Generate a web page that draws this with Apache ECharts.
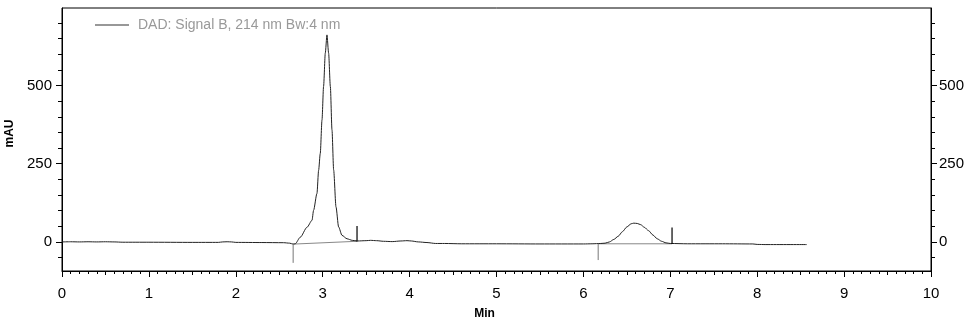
<!DOCTYPE html>
<html>
<head>
<meta charset="utf-8">
<script src="https://cdn.jsdelivr.net/npm/echarts@6/dist/echarts.min.js"></script>
<style>
html,body{margin:0;padding:0;background:#fff;}
#c{width:969px;height:324px;}
</style>
</head>
<body>
<div id="c"></div>
<script>
// ---- data ----
var seriesName = 'DAD: Signal B, 214 nm Bw:4 nm';
var times = [0, 0.1, 0.2, 0.3, 0.4, 0.5, 0.6, 0.7, 1.0, 1.5, 1.8, 1.85, 1.9, 1.95, 2.0, 2.3, 2.55, 2.62, 2.66, 2.684,
  2.742, 2.82, 2.877, 2.895, 2.934, 2.953, 2.972, 2.992, 3.010, 3.030, 3.049, 3.068, 3.088, 3.107, 3.126, 3.153, 3.183, 3.222,
  3.28, 3.34, 3.40, 3.5, 3.55, 3.62, 3.7, 3.8, 3.9, 3.97, 4.02, 4.1, 4.2, 4.3, 4.4, 4.6, 5.0, 5.5, 6.0, 6.1, 6.2, 6.25,
  6.3, 6.35, 6.4, 6.45, 6.5, 6.55, 6.58, 6.62, 6.66, 6.7, 6.75, 6.8, 6.85, 6.9, 6.95, 7.0, 7.2, 7.6, 7.95, 8.0, 8.1, 8.57];
var signal = [0, 0.5, 0, 0.5, 0, 0.5, 0, -1, -1, -1.5, -1.5, 0, 0.5, 0, -1.5, -2, -2.5, -4, -7, -6,
  15, 47, 69, 101, 155, 229, 283, 390, 497, 604, 662, 604, 497, 358, 230, 112, 48, 21,
  10, 5, 3, 4, 5, 4, 2, 1, 3, 4, 3, 0, -2, -5, -5, -6, -6, -6.5, -6.5, -6, -5, -4,
  0, 8, 18, 33, 48, 58, 60, 59, 55, 47, 36, 22, 10, 2, -3, -5, -6, -6, -6.5, -8, -8.5, -8.5];
// integration marks: [time, from, to]
var startMarks = [[2.66, -7, -67], [6.17, -6, -58]];
var endMarks = [[3.395, 51, 1], [7.02, 46, -6]];
// integration baselines: [t1, y1, t2, y2]
var baselines = [[2.66, -7, 3.395, 2], [6.17, -6, 7.02, -6]];
var xTicks = [0, 1, 2, 3, 4, 5, 6, 7, 8, 9, 10];
var yLabels = [0, 250, 500];
var yMinor = [-50, 0, 50, 100, 150, 200, 250, 300, 350, 400, 450, 500, 550, 600, 650, 700];
var xHalf = [0.5, 1.5, 2.5, 3.5, 4.5, 5.5, 6.5, 7.5, 8.5, 9.5];
var yMin = -93, yMax = 748;

// ---- build ----
var sigData = times.map(function (t, i) { return [t, signal[i]]; });
function segs(list) {
  var out = [];
  list.forEach(function (m) { out.push([m[0], m[1]]); out.push([m[0], m[2]]); out.push([null, null]); });
  return out;
}
var baseData = [];
baselines.forEach(function (b) { baseData.push([b[0], b[1]]); baseData.push([b[2], b[3]]); baseData.push([null, null]); });

var FONT = 'Liberation Sans';
var chart = echarts.init(document.getElementById('c'), null, {renderer: 'canvas'});
var yCommon = {type: 'value', min: yMin, max: yMax, splitLine: {show: false}};
chart.setOption({
  animation: false,
  backgroundColor: '#fff',
  grid: {left: 62, right: 38, top: 8, bottom: 53, show: true, borderColor: '#000', borderWidth: 1,
         containLabel: false, outerBoundsMode: 'none'},
  legend: {
    left: 90, top: 13, itemWidth: 34, itemHeight: 1, itemGap: 10,
    data: [{name: seriesName, icon: 'rect', itemStyle: {color: '#333'}}],
    textStyle: {color: '#999', fontSize: 14, fontFamily: FONT, padding: [0, 0, 0, 4]}
  },
  xAxis: [{
    type: 'value', min: 0, max: 10, interval: 1,
    name: 'Min', nameLocation: 'middle', nameGap: 37,
    nameTextStyle: {fontFamily: FONT, fontSize: 12, fontWeight: 'bold', color: '#000', padding: [0, 24, 0, 0]},
    axisLine: {onZero: false, lineStyle: {color: '#000', width: 1}},
    axisTick: {length: 6, inside: false, lineStyle: {color: '#000'}},
    minorTick: {show: true, splitNumber: 10, length: 3, lineStyle: {color: '#000'}},
    axisLabel: {fontFamily: FONT, fontSize: 15, color: '#000', margin: 15, customValues: xTicks},
    splitLine: {show: false}, minorSplitLine: {show: false}
  }, {
    type: 'value', min: 0, max: 10, position: 'bottom',
    axisLine: {show: false, onZero: false},
    axisTick: {show: true, inside: false, length: 4, customValues: xHalf, lineStyle: {color: '#000'}},
    axisLabel: {show: false}, splitLine: {show: false}
  }],
  yAxis: [
    Object.assign({}, yCommon, {
      position: 'left', name: 'mAU', nameLocation: 'middle', nameGap: 44, nameRotate: 90,
      nameTextStyle: {fontFamily: FONT, fontSize: 12, fontWeight: 'bold', color: '#000', padding: [0, 0, 0, 12]},
      axisLine: {show: true, onZero: false, lineStyle: {color: '#000'}},
      axisTick: {show: true, length: 6, customValues: yLabels, lineStyle: {color: '#000'}},
      axisLabel: {show: true, fontFamily: FONT, fontSize: 15, color: '#000', margin: 10, customValues: yLabels}
    }),
    Object.assign({}, yCommon, {
      position: 'left', axisLine: {show: false, onZero: false},
      axisTick: {show: true, length: 4, customValues: yMinor, lineStyle: {color: '#000'}},
      axisLabel: {show: false}
    }),
    Object.assign({}, yCommon, {
      position: 'right', axisLine: {show: true, onZero: false, lineStyle: {color: '#000'}},
      axisTick: {show: true, length: 6, customValues: yLabels, lineStyle: {color: '#000'}},
      axisLabel: {fontFamily: FONT, fontSize: 15, color: '#000', margin: 8, customValues: yLabels}
    }),
    Object.assign({}, yCommon, {
      position: 'right', axisLine: {show: false, onZero: false},
      axisTick: {show: true, length: 4, customValues: yMinor, lineStyle: {color: '#000'}},
      axisLabel: {show: false}
    })
  ],
  series: [{
    name: seriesName, type: 'line', data: sigData, symbol: 'none',
    smooth: 0.25, smoothMonotone: 'x',
    lineStyle: {color: '#222', width: 1}, itemStyle: {color: '#222'}, z: 3
  }, {
    name: 'baseline', type: 'line', data: baseData, symbol: 'none', connectNulls: false,
    lineStyle: {color: '#888', width: 1}, z: 2
  }, {
    name: 'start', type: 'line', data: segs(startMarks), symbol: 'none', connectNulls: false,
    lineStyle: {color: '#777', width: 1}, z: 4
  }, {
    name: 'end', type: 'line', data: segs(endMarks), symbol: 'none', connectNulls: false,
    lineStyle: {color: '#000', width: 1.2}, z: 4
  }]
});
</script>
</body>
</html>
